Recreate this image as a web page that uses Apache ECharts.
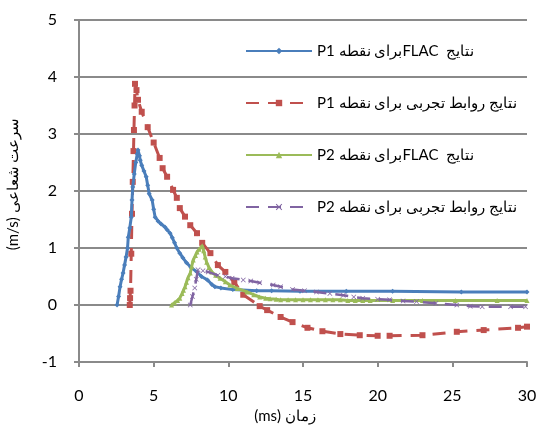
<!DOCTYPE html>
<html>
<head>
<meta charset="utf-8">
<script src="https://cdn.jsdelivr.net/npm/echarts@6/dist/echarts.min.js"></script>
<style>
html,body{margin:0;padding:0;background:#fff;}
#chart{width:537px;height:427px;}
</style>
</head>
<body>
<div id="chart"></div>
<script>
// ---- Data ----
const xTicks = [0, 5, 10, 15, 20, 25, 30];
const yTicks = [-1, 0, 1, 2, 3, 4, 5];

const seriesNames = [
  'نتایج  FLACبرای نقطه P1',
  'نتایج روابط تجربی برای نقطه P1',
  'نتایج  FLACبرای نقطه P2',
  'نتایج روابط تجربی برای نقطه P2'
];
const xAxisTitle = 'زمان (ms)';
const yAxisTitle = 'سرعت شعاعی (m/s)';

// P1 FLAC
const p1FlacX = [2.55,2.65,2.75,2.85,2.95,3.05,3.15,3.25,3.3,3.4,3.5,3.55,3.6,3.7,3.8,3.9,3.95,4.05,4.1,4.2,4.35,4.5,4.6,4.7,4.9,5.0,5.1,5.3,5.5,5.75,5.9,6.1,6.25,6.4,6.55,6.75,6.95,7.2,7.5,7.9,8.2,8.6,8.9,9.1,9.5,10.3,11.9,12.9,14.8,17.9,21,25.6,30];
const p1FlacY = [0,0.15,0.32,0.45,0.56,0.7,0.84,1.0,1.19,1.35,1.54,1.84,2.07,2.3,2.5,2.65,2.72,2.62,2.54,2.45,2.35,2.25,2.1,1.95,1.84,1.68,1.54,1.47,1.42,1.37,1.32,1.26,1.18,1.09,1.0,0.91,0.83,0.74,0.66,0.58,0.5,0.44,0.36,0.32,0.3,0.27,0.25,0.25,0.24,0.24,0.24,0.23,0.23];

// P1 empirical
const p1EmpX = [3.4,3.42,3.45,3.5,3.55,3.6,3.65,3.68,3.72,3.75,3.85,3.95,4.2,4.6,5.0,5.4,5.6,5.9,6.3,6.55,6.75,7.1,7.45,7.9,8.25,8.8,9.3,9.8,10.4,11,12.1,12.6,13.5,14.3,15.3,16.3,17.5,18.8,20,20.8,23,25.3,27.1,29.4,30];
const p1EmpY = [0,0.12,0.25,0.9,1.6,2.16,2.7,3.07,3.5,3.88,3.77,3.6,3.39,3.12,2.85,2.58,2.4,2.25,2.02,1.88,1.7,1.55,1.4,1.26,1.09,0.91,0.7,0.58,0.4,0.18,-0.02,-0.09,-0.21,-0.3,-0.4,-0.46,-0.51,-0.53,-0.54,-0.54,-0.53,-0.47,-0.44,-0.4,-0.38];

// P2 FLAC
const p2FlacX = [6.2,6.4,6.6,6.75,6.9,7.0,7.1,7.2,7.3,7.45,7.55,7.65,7.8,7.9,8.05,8.25,8.35,8.45,8.55,8.7,8.9,9.15,9.45,9.8,10.1,10.6,11.25,11.7,12.1,12.5,12.8,13.2,13.5,14,14.5,15,15.5,16,16.5,17,17.5,18,18.5,19,19.5,21,23,25.2,28,30];
const p2FlacY = [0,0.04,0.08,0.12,0.2,0.26,0.32,0.4,0.48,0.56,0.68,0.79,0.87,0.93,0.98,1.04,0.95,0.84,0.75,0.66,0.58,0.52,0.47,0.41,0.35,0.29,0.23,0.18,0.14,0.12,0.11,0.1,0.09,0.09,0.09,0.09,0.09,0.09,0.09,0.09,0.09,0.08,0.08,0.08,0.08,0.08,0.08,0.08,0.08,0.08];

// P2 empirical
const p2EmpX = [7.45,7.6,7.75,7.85,7.97,8.3,8.65,9.3,9.8,10.25,11,11.5,12.1,13,13.5,14.3,15.1,15.9,16.8,17.7,18.4,19,20,20.8,21.7,22.6,23.9,25.3,26.2,27,28.9,29.9];
const p2EmpY = [0,0.15,0.3,0.45,0.62,0.6,0.58,0.52,0.5,0.47,0.44,0.42,0.39,0.35,0.32,0.27,0.25,0.23,0.2,0.17,0.14,0.12,0.1,0.09,0.07,0.06,0.03,0.0,-0.02,-0.03,-0.03,-0.03];

// ---- Chart ----
const rtl = s => '\u202B' + s + '\u202C';
const zip = (xs, ys) => xs.map((x, i) => [x, ys[i]]);
const FONT = 'Lato';
const axisGrey = '#8a8a8a';
const crossPath = 'path://M1,0 L5,4 L9,0 L10,1 L6,5 L10,9 L9,10 L5,6 L1,10 L0,9 L4,5 L0,1 Z';

const chart = echarts.init(document.getElementById('chart'), null, {renderer: 'canvas'});
chart.setOption({
  animation: false,
  backgroundColor: '#fff',
  grid: {left: 79, right: 10, top: 20, bottom: 65, containLabel: false, outerBoundsMode: 'none'},
  xAxis: {
    type: 'value', min: xTicks[0], max: xTicks[xTicks.length - 1], interval: 5,
    name: rtl(xAxisTitle), nameLocation: 'middle', nameGap: 40,
    nameTextStyle: {fontFamily: FONT, fontSize: 15, color: '#000', padding: [0, 36, 0, 0]},
    axisLine: {onZero: false, lineStyle: {color: axisGrey, width: 2}},
    axisTick: {show: true, length: 5, inside: false, lineStyle: {color: axisGrey, width: 2}},
    axisLabel: {fontFamily: FONT, fontSize: 16, color: '#000', margin: 26},
    splitLine: {show: false}
  },
  yAxis: {
    type: 'value', min: yTicks[0], max: yTicks[yTicks.length - 1], interval: 1,
    name: rtl(yAxisTitle), nameLocation: 'middle', nameGap: 58, nameRotate: 90,
    nameTextStyle: {fontFamily: FONT, fontSize: 15, color: '#000', padding: [0, 0, 0, 14]},
    axisLine: {onZero: false, lineStyle: {color: axisGrey, width: 2}},
    axisTick: {show: true, length: 5, inside: false, lineStyle: {color: axisGrey, width: 2}},
    axisLabel: {fontFamily: FONT, fontSize: 16, color: '#000', margin: 22},
    splitLine: {show: true, lineStyle: {color: axisGrey, width: 2}}
  },
  legend: {
    show: true, orient: 'vertical', left: 240, top: 38,
    itemWidth: 66, itemHeight: 8, itemGap: 36,
    textStyle: {fontFamily: FONT, fontSize: 15, color: '#000', lineHeight: 16},
    data: seriesNames.map(rtl)
  },
  series: [
    {
      name: rtl(seriesNames[0]), type: 'line', data: zip(p1FlacX, p1FlacY),
      symbol: 'diamond', symbolSize: 5, showAllSymbol: true,
      lineStyle: {color: '#4A7EBB', width: 3},
      itemStyle: {color: '#4A7EBB'}, z: 3
    },
    {
      name: rtl(seriesNames[1]), type: 'line', data: zip(p1EmpX, p1EmpY),
      symbol: 'rect', symbolSize: 6, showAllSymbol: true,
      lineStyle: {color: '#C0504D', width: 3, type: [13, 9]},
      itemStyle: {color: '#C0504D'}, z: 2
    },
    {
      name: rtl(seriesNames[2]), type: 'line', data: zip(p2FlacX, p2FlacY),
      symbol: 'triangle', symbolSize: 5, showAllSymbol: true,
      lineStyle: {color: '#9BBB59', width: 3},
      itemStyle: {color: '#9BBB59'}, z: 4
    },
    {
      name: rtl(seriesNames[3]), type: 'line', data: zip(p2EmpX, p2EmpY),
      symbol: crossPath, symbolSize: 5, showAllSymbol: true,
      lineStyle: {color: '#8064A2', width: 2.5, type: [13, 9]},
      itemStyle: {color: '#8064A2'}, z: 5
    }
  ]
});
</script>
</body>
</html>
